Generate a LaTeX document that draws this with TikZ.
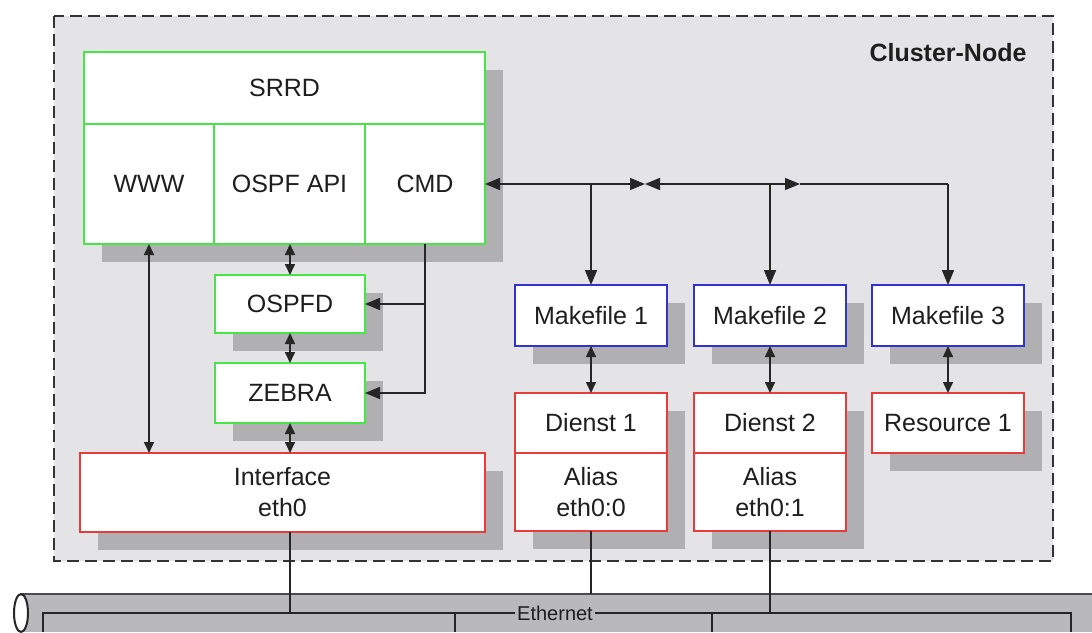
\documentclass[tikz,border=0pt]{standalone}
\usepackage{fontspec}
\setmainfont{Liberation Sans}
\usetikzlibrary{arrows.meta, positioning, shadows}

\definecolor{clusterbg}{RGB}{228,228,230}
\definecolor{shadowgray}{RGB}{176,176,178}
\definecolor{procgreen}{RGB}{70,230,70}
\definecolor{makeblue}{RGB}{50,50,210}
\definecolor{netred}{RGB}{230,60,60}
\definecolor{cablegray}{RGB}{185,185,187}
\definecolor{textgray}{RGB}{30,30,30}

\begin{document}
\begin{tikzpicture}[
    x=1pt, y=-1pt,
    font=\fontsize{25}{31}\selectfont,
    box/.style={
        draw,
        fill=white,
        line width=1.5pt,
        align=center,
        inner sep=0pt,
        outer sep=0pt,
        text=textgray,
        general shadow={fill=shadowgray, shadow xshift=18pt, shadow yshift=-18pt}
    },
    proc/.style={box, draw=procgreen},
    make/.style={box, draw=makeblue, minimum width=152pt, minimum height=61pt},
    net/.style={box, draw=netred, minimum width=152pt},
    wire/.style={line width=1.6pt, draw=black!85},
    arrow/.style={wire, -{Triangle[length=15pt, width=12pt]}},
    dblarrow/.style={wire, {Triangle[length=11pt, width=10pt]}-{Triangle[length=11pt, width=10pt]}}
]
\useasboundingbox (0,0) rectangle (1092,632);

% cluster frame
\draw[fill=clusterbg, draw=black!80, line width=2pt, dash pattern=on 12pt off 6pt] (54,16) rectangle (1053,561);
\node[anchor=east, font=\fontsize{25}{31}\selectfont\bfseries, text=textgray] (cluster) at (1030,53) {Cluster-Node};

% routing daemons
\node[proc, anchor=north west, minimum width=401pt, minimum height=72pt] (srrd) at (84,52) {SRRD};
\node[proc, below right=0pt of srrd.south west, minimum width=130pt, minimum height=120pt] (www) {WWW};
\node[proc, right=0pt of www, minimum width=151pt, minimum height=120pt] (ospfapi) {OSPF API};
\node[proc, right=0pt of ospfapi, minimum width=120pt, minimum height=120pt] (cmd) {CMD};
\node[proc, anchor=north west, minimum width=150pt, minimum height=58pt] (ospfd) at (215,275) {OSPFD};
\node[proc, below=30pt of ospfd, minimum width=150pt, minimum height=60pt] (zebra) {ZEBRA};
\node[net, anchor=north west, minimum width=405pt, minimum height=79pt] (iface) at (80,453) {Interface\\eth0};

% services
\node[make, anchor=north west] (mk1) at (515,285) {Makefile 1};
\node[make, right=27pt of mk1] (mk2) {Makefile 2};
\node[make, right=26pt of mk2] (mk3) {Makefile 3};
\node[net, below=47pt of mk1, minimum height=60pt] (dienst1) {Dienst 1};
\node[net, below=0pt of dienst1, minimum height=78pt] (alias1) {Alias\\eth0:0};
\node[net, below=47pt of mk2, minimum height=60pt] (dienst2) {Dienst 2};
\node[net, below=0pt of dienst2, minimum height=78pt] (alias2) {Alias\\eth0:1};
\node[net, below=47pt of mk3, minimum height=60pt] (res1) {Resource 1};

% ethernet cable
\fill[cablegray] (21,594) rectangle (1092,632);
\coordinate (cabletop) at (21,594);
\draw[wire, draw=black!70] (cabletop) -- (1092,594);
\draw[wire, line width=2pt, fill=white] (21,613) ellipse [x radius=7pt, y radius=19pt];
\draw[wire, line width=1.3pt] (43,632) -- (43,613) -- (1071,613) -- (1071,632);
\draw[wire, line width=1.3pt] (455,613) -- (455,632);
\draw[wire, line width=1.3pt] (712,613) -- (712,632);
\node[fill=cablegray, inner sep=2pt, font=\fontsize{20}{24}\selectfont, text=textgray] (ethernet) at (555,613) {Ethernet};

% daemon links
\draw[dblarrow] (www.south) -- (www.south |- iface.north);
\draw[dblarrow] (ospfd.north |- ospfapi.south) -- (ospfd.north);
\draw[dblarrow] (ospfd.south) -- (zebra.north);
\draw[dblarrow] (zebra.south) -- (zebra.south |- iface.north);
\draw[arrow] (cmd.south) |- (zebra.east);
\draw[arrow] (cmd.south |- ospfd.east) -- (ospfd.east);

% command bus
\coordinate (bus1) at (mk1.north |- cmd.east);
\coordinate (bus2) at (mk2.north |- cmd.east);
\coordinate (bus3) at (mk3.north |- cmd.east);
\coordinate (meet) at (645,184);
\coordinate (rtip) at (800,184);
\draw[arrow] (bus1) -- (cmd.east);
\draw[arrow] (bus1) -- (meet);
\draw[arrow] (bus2) -- (meet);
\draw[arrow] (bus2) -- (rtip);
\draw[wire] (rtip) -- (bus3);
\draw[arrow] (bus1) -- (mk1.north);
\draw[arrow] (bus2) -- (mk2.north);
\draw[arrow] (bus3) -- (mk3.north);

% service links
\draw[dblarrow] (mk1.south) -- (dienst1.north);
\draw[dblarrow] (mk2.south) -- (dienst2.north);
\draw[dblarrow] (mk3.south) -- (res1.north);

% drops to the cable
\draw[wire] (zebra.south |- iface.south) -- (zebra.south |- ethernet.center);
\draw[wire] (alias1.south) -- (alias1.south |- cabletop);
\draw[wire] (alias2.south) -- (alias2.south |- ethernet.center);

\end{tikzpicture}
\end{document}
